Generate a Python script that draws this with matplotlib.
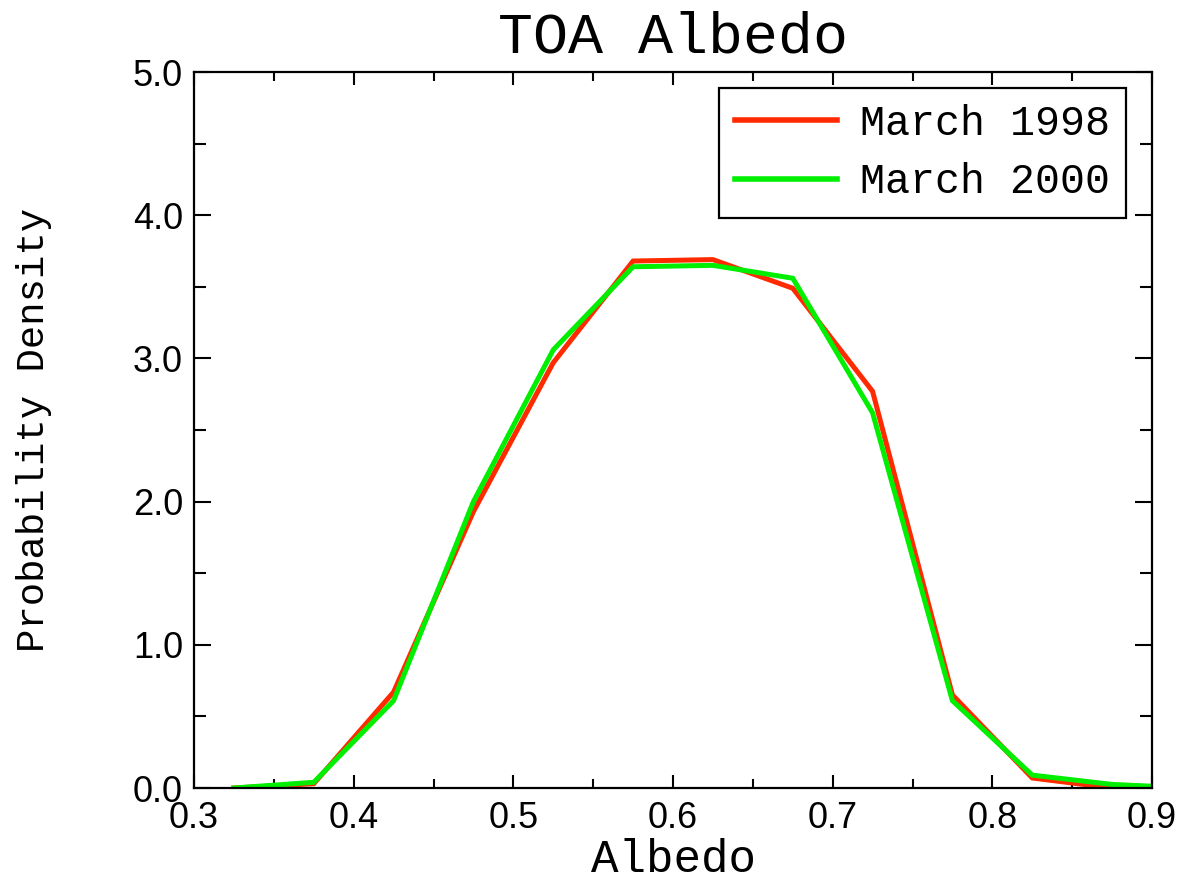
import matplotlib
matplotlib.use("Agg")
import matplotlib.pyplot as plt
from matplotlib.ticker import MultipleLocator, FormatStrFormatter

# Histogram bin centres (albedo) and probability densities
albedo = [0.325, 0.375, 0.425, 0.475, 0.525, 0.575, 0.625, 0.675,
          0.725, 0.775, 0.825, 0.875, 0.925]
march_1998 = [0.00, 0.03, 0.67, 1.93, 2.97, 3.68, 3.69, 3.49,
              2.77, 0.65, 0.07, 0.00, 0.00]
march_2000 = [0.00, 0.04, 0.61, 2.00, 3.06, 3.64, 3.65, 3.56,
              2.62, 0.61, 0.09, 0.025, 0.00]

series_labels = ["March 1998", "March 2000"]
series_colors = ["#ff2a00", "#00ee00"]

mono = "Liberation Mono"
sans = "Liberation Sans"

fig = plt.figure(figsize=(11.88, 8.88), dpi=100)
ax = fig.add_axes([0.1633, 0.1126, 0.8064, 0.8063])

for vals, lab, col in zip([march_1998, march_2000], series_labels, series_colors):
    ax.plot(albedo, vals, color=col, lw=3.6, label=lab, solid_joinstyle="miter")

ax.set_xlim(0.3, 0.9)
ax.set_ylim(0.0, 5.0)
ax.xaxis.set_major_locator(MultipleLocator(0.1))
ax.xaxis.set_minor_locator(MultipleLocator(0.05))
ax.yaxis.set_major_locator(MultipleLocator(1.0))
ax.yaxis.set_minor_locator(MultipleLocator(0.5))
ax.xaxis.set_major_formatter(FormatStrFormatter("%.1f"))
ax.yaxis.set_major_formatter(FormatStrFormatter("%.1f"))

for s in ax.spines.values():
    s.set_linewidth(1.6)

ax.tick_params(which="both", direction="in", top=True, right=True, width=1.5)
ax.tick_params(axis="x", which="major", length=9.5, pad=9)
ax.tick_params(axis="x", which="minor", length=6.5)
ax.tick_params(axis="y", which="major", length=12, pad=8)
ax.tick_params(axis="y", which="minor", length=8.5)
for lbl in ax.get_xticklabels() + ax.get_yticklabels():
    lbl.set_fontfamily(sans)
    lbl.set_fontsize(26)

ax.set_title("TOA Albedo", fontfamily=mono, fontsize=42, pad=14)
ax.set_xlabel("Albedo", fontfamily=mono, fontsize=33, labelpad=2)
ax.set_ylabel("Probability Density", fontfamily=mono, fontsize=28, labelpad=58)

leg = ax.legend(loc="upper right", bbox_to_anchor=(0.973, 0.978),
                borderaxespad=0, prop={"family": mono, "size": 30},
                handlelength=2.45, handletextpad=0.55, borderpad=0.38,
                labelspacing=0.45, fancybox=False, framealpha=1)
leg.get_frame().set_edgecolor("black")
leg.get_frame().set_linewidth(1.6)
for h in leg.get_lines():
    h.set_linewidth(4)

fig.savefig("out.png", dpi=100)
